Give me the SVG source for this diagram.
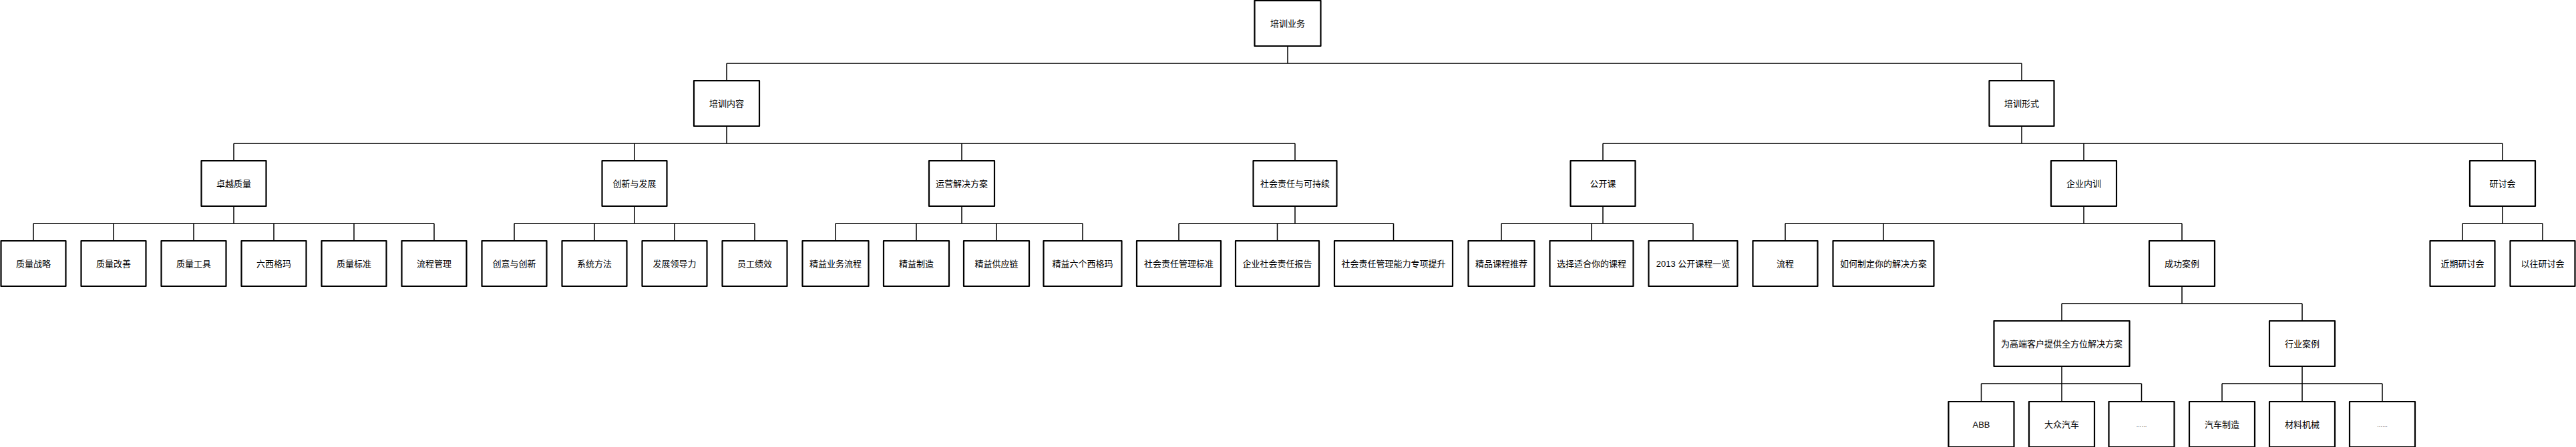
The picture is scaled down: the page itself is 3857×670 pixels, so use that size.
<svg xmlns="http://www.w3.org/2000/svg" width="3857" height="670" viewBox="0 0 3857 670">
<style>
.b{fill:#fff;stroke:#000;stroke-width:2.2;stroke-linejoin:round}
.t{font-family:"Liberation Sans","Noto Sans CJK SC",sans-serif;font-size:13px;fill:#000;text-anchor:middle}
.d{font-size:8px}
.c{fill:none;stroke:#000;stroke-width:1.5}
</style>
<rect width="3857" height="670" fill="#fff"/>
<g id="connectors" class="c">
<path d="M1928 69V95M1088 95H3027M1088 95V121M3027 95V121"/>
<path d="M1088 189V215M350 215H1939M350 215V241M950 215V241M1440 215V241M1939 215V241"/>
<path d="M3027 189V215M2400 215H3747M2400 215V241M3120 215V241M3747 215V241"/>
<path d="M350 309V335M50 335H650M50 335V361M170 335V361M290 335V361M410 335V361M530 335V361M650 335V361"/>
<path d="M950 309V335M770 335H1130M770 335V361M890 335V361M1010 335V361M1130 335V361"/>
<path d="M1440 309V335M1251 335H1621M1251 335V361M1372 335V361M1492 335V361M1621 335V361"/>
<path d="M1939 309V335M1765 335H2086.5M1765 335V361M1912.5 335V361M2086.5 335V361"/>
<path d="M2400 309V335M2248 335H2535M2248 335V361M2383 335V361M2535 335V361"/>
<path d="M3120 309V335M2673 335H3267M2673 335V361M2820 335V361M3267 335V361"/>
<path d="M3747 309V335M3687 335H3807M3687 335V361M3807 335V361"/>
<path d="M3267 429V455M3087 455H3447M3087 455V481M3447 455V481"/>
<path d="M3087 549V575M2966.5 575H3206.5M2966.5 575V602M3087 575V602M3206.5 575V602"/>
<path d="M3447 549V575M3327 575H3567M3327 575V602M3447 575V602M3567 575V602"/>
</g>
<g id="root"><rect class="b" x="1878.5" y="1" width="99" height="68"/><text class="t" x="1928" y="39.5">培训业务</text></g>
<g id="n-content"><rect class="b" x="1039" y="121" width="98" height="68"/><text class="t" x="1088" y="159.5">培训内容</text></g>
<g id="n-form"><rect class="b" x="2978.5" y="121" width="97" height="68"/><text class="t" x="3027" y="159.5">培训形式</text></g>
<g id="n-quality"><rect class="b" x="301.5" y="241" width="97" height="68"/><text class="t" x="350" y="279.5">卓越质量</text></g>
<g id="n-innov"><rect class="b" x="901.5" y="241" width="97" height="68"/><text class="t" x="950" y="279.5">创新与发展</text></g>
<g id="n-ops"><rect class="b" x="1391" y="241" width="98" height="68"/><text class="t" x="1440" y="279.5">运营解决方案</text></g>
<g id="n-csr"><rect class="b" x="1876.5" y="241" width="125" height="68"/><text class="t" x="1939" y="279.5">社会责任与可持续</text></g>
<g id="n-public"><rect class="b" x="2351.5" y="241" width="97" height="68"/><text class="t" x="2400" y="279.5">公开课</text></g>
<g id="n-inhouse"><rect class="b" x="3071" y="241" width="98" height="68"/><text class="t" x="3120" y="279.5">企业内训</text></g>
<g id="n-seminar"><rect class="b" x="3698" y="241" width="98" height="68"/><text class="t" x="3747" y="279.5">研讨会</text></g>
<g id="q1"><rect class="b" x="1.5" y="361" width="97" height="68"/><text class="t" x="50" y="399.5">质量战略</text></g>
<g id="q2"><rect class="b" x="121.5" y="361" width="97" height="68"/><text class="t" x="170" y="399.5">质量改善</text></g>
<g id="q3"><rect class="b" x="241.5" y="361" width="97" height="68"/><text class="t" x="290" y="399.5">质量工具</text></g>
<g id="q4"><rect class="b" x="361.5" y="361" width="97" height="68"/><text class="t" x="410" y="399.5">六西格玛</text></g>
<g id="q5"><rect class="b" x="481.5" y="361" width="97" height="68"/><text class="t" x="530" y="399.5">质量标准</text></g>
<g id="q6"><rect class="b" x="601.5" y="361" width="97" height="68"/><text class="t" x="650" y="399.5">流程管理</text></g>
<g id="i1"><rect class="b" x="721.5" y="361" width="97" height="68"/><text class="t" x="770" y="399.5">创意与创新</text></g>
<g id="i2"><rect class="b" x="841.5" y="361" width="97" height="68"/><text class="t" x="890" y="399.5">系统方法</text></g>
<g id="i3"><rect class="b" x="961.5" y="361" width="97" height="68"/><text class="t" x="1010" y="399.5">发展领导力</text></g>
<g id="i4"><rect class="b" x="1081.5" y="361" width="97" height="68"/><text class="t" x="1130" y="399.5">员工绩效</text></g>
<g id="o1"><rect class="b" x="1201.5" y="361" width="99" height="68"/><text class="t" x="1251" y="399.5">精益业务流程</text></g>
<g id="o2"><rect class="b" x="1323" y="361" width="98" height="68"/><text class="t" x="1372" y="399.5">精益制造</text></g>
<g id="o3"><rect class="b" x="1443" y="361" width="98" height="68"/><text class="t" x="1492" y="399.5">精益供应链</text></g>
<g id="o4"><rect class="b" x="1562.5" y="361" width="117" height="68"/><text class="t" x="1621" y="399.5">精益六个西格玛</text></g>
<g id="c1"><rect class="b" x="1702" y="361" width="126" height="68"/><text class="t" x="1765" y="399.5">社会责任管理标准</text></g>
<g id="c2"><rect class="b" x="1850" y="361" width="125" height="68"/><text class="t" x="1912.5" y="399.5">企业社会责任报告</text></g>
<g id="c3"><rect class="b" x="1998" y="361" width="177" height="68"/><text class="t" x="2086.5" y="399.5">社会责任管理能力专项提升</text></g>
<g id="p1"><rect class="b" x="2198.5" y="361" width="99" height="68"/><text class="t" x="2248" y="399.5">精品课程推荐</text></g>
<g id="p2"><rect class="b" x="2320.5" y="361" width="125" height="68"/><text class="t" x="2383" y="399.5">选择适合你的课程</text></g>
<g id="p3"><rect class="b" x="2468.5" y="361" width="133" height="68"/><text class="t" x="2535" y="399.5">2013 公开课程一览</text></g>
<g id="e1"><rect class="b" x="2624.5" y="361" width="97" height="68"/><text class="t" x="2673" y="399.5">流程</text></g>
<g id="e2"><rect class="b" x="2744.5" y="361" width="151" height="68"/><text class="t" x="2820" y="399.5">如何制定你的解决方案</text></g>
<g id="e3"><rect class="b" x="3218" y="361" width="98" height="68"/><text class="t" x="3267" y="399.5">成功案例</text></g>
<g id="s1"><rect class="b" x="3638.5" y="361" width="97" height="68"/><text class="t" x="3687" y="399.5">近期研讨会</text></g>
<g id="s2"><rect class="b" x="3758.5" y="361" width="97" height="68"/><text class="t" x="3807" y="399.5">以往研讨会</text></g>
<g id="k1"><rect class="b" x="2985.5" y="481" width="203" height="68"/><text class="t" x="3087" y="519.5">为高端客户提供全方位解决方案</text></g>
<g id="k2"><rect class="b" x="3398" y="481" width="98" height="68"/><text class="t" x="3447" y="519.5">行业案例</text></g>
<g id="a1"><rect class="b" x="2917.5" y="602" width="98" height="68"/><text class="t" x="2966.5" y="640.5">ABB</text></g>
<g id="a2"><rect class="b" x="3038" y="602" width="98" height="68"/><text class="t" x="3087" y="640.5">大众汽车</text></g>
<g id="a3"><rect class="b" x="3157.5" y="602" width="98" height="68"/><text class="t d" x="3206.5" y="640">……</text></g>
<g id="b1"><rect class="b" x="3278" y="602" width="98" height="68"/><text class="t" x="3327" y="640.5">汽车制造</text></g>
<g id="b2"><rect class="b" x="3398" y="602" width="98" height="68"/><text class="t" x="3447" y="640.5">材料机械</text></g>
<g id="b3"><rect class="b" x="3518" y="602" width="98" height="68"/><text class="t d" x="3567" y="640">……</text></g>
</svg>
